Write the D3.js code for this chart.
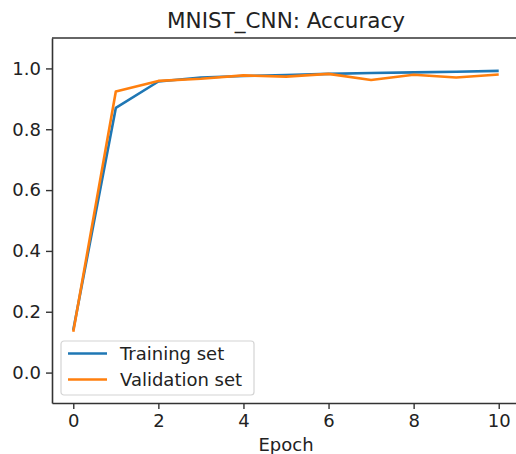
<!DOCTYPE html>
<html>
<head>
<meta charset="utf-8">
<script src="https://cdn.jsdelivr.net/npm/d3@7"></script>
<style>
  body { margin: 0; background: #fff; overflow: hidden; }
  text { font-family: "DejaVu Sans", sans-serif; fill: #222; }
</style>
</head>
<body>
<div id="chart"></div>
<script>
// data
var epochs = [0, 1, 2, 3, 4, 5, 6, 7, 8, 9, 10];
var trainAcc = [0.14, 0.87, 0.957, 0.970, 0.975, 0.978, 0.982, 0.985, 0.987, 0.989, 0.992];
var valAcc = [0.134, 0.924, 0.959, 0.966, 0.977, 0.973, 0.982, 0.962, 0.979, 0.970, 0.980];
var xTicks = [0, 2, 4, 6, 8, 10];
var yTicks = [0.0, 0.2, 0.4, 0.6, 0.8, 1.0];
var seriesNames = ["Training set", "Validation set"];
var colors = ["#1f77b4", "#ff7f0e"];

var W = 516, H = 454;
var margin = { top: 38, right: -4, bottom: 51, left: 52 };
var width = W - margin.left - margin.right,
  height = H - margin.top - margin.bottom;

var x = d3.scaleLinear().domain([-0.5, 10.5]).range([0, width]);
var y = d3.scaleLinear().domain([-0.1, 1.1]).range([height, 0]);

var svg = d3.select("#chart").append("svg")
  .attr("width", W)
  .attr("height", H)
  .style("display", "block")
  .append("g")
  .attr("transform", "translate(" + margin.left + "," + margin.top + ")");

// lines
var series = [trainAcc, valAcc];
series.forEach(function (vals, i) {
  var line = d3.line()
    .x(function (d, j) { return x(epochs[j]); })
    .y(function (d) { return y(d); });
  svg.append("path")
    .datum(vals)
    .attr("fill", "none")
    .attr("stroke", colors[i])
    .attr("stroke-width", 2.6)
    .attr("stroke-linejoin", "round")
    .attr("d", line);
});

// axes
var xAxis = svg.append("g")
  .attr("transform", "translate(0," + height + ")")
  .call(d3.axisBottom(x).tickValues(xTicks).tickSizeInner(6).tickSizeOuter(0)
    .tickPadding(5).tickFormat(d3.format("d")));
var yAxis = svg.append("g")
  .call(d3.axisLeft(y).tickValues(yTicks).tickSizeInner(6).tickSizeOuter(0)
    .tickPadding(5).tickFormat(d3.format(".1f")));

[xAxis, yAxis].forEach(function (a) {
  a.select(".domain").attr("stroke", "#333").attr("stroke-width", 1.6);
  a.selectAll(".tick line").attr("stroke", "#333").attr("stroke-width", 1.4);
  a.selectAll(".tick text").style("font-size", "18px").attr("fill", "#222")
    .style("font-family", "DejaVu Sans, sans-serif");
});

// top spine (right spine falls just outside the window)
svg.append("line").attr("x1", 0).attr("x2", width).attr("y1", 0).attr("y2", 0)
  .attr("stroke", "#333").attr("stroke-width", 1.6);

// title and axis label
svg.append("text")
  .attr("x", width / 2)
  .attr("y", -10)
  .attr("text-anchor", "middle")
  .style("font-size", "21.5px")
  .text("MNIST_CNN: Accuracy");

svg.append("text")
  .attr("x", width / 2)
  .attr("y", height + 48)
  .attr("text-anchor", "middle")
  .style("font-size", "18px")
  .text("Epoch");

// legend
var legend = svg.append("g").attr("transform", "translate(9,303)");
legend.append("rect")
  .attr("width", 193)
  .attr("height", 54)
  .attr("rx", 3)
  .attr("fill", "#fff")
  .attr("fill-opacity", 0.8)
  .attr("stroke", "#d4d4d4")
  .attr("stroke-width", 1.2);
seriesNames.forEach(function (name, i) {
  var g = legend.append("g").attr("transform", "translate(0," + (12.5 + i * 26) + ")");
  g.append("line")
    .attr("x1", 7).attr("x2", 46)
    .attr("stroke", colors[i]).attr("stroke-width", 2.6);
  g.append("text")
    .attr("x", 59)
    .attr("y", 6.5)
    .style("font-size", "18px")
    .text(name);
});
</script>
</body>
</html>
